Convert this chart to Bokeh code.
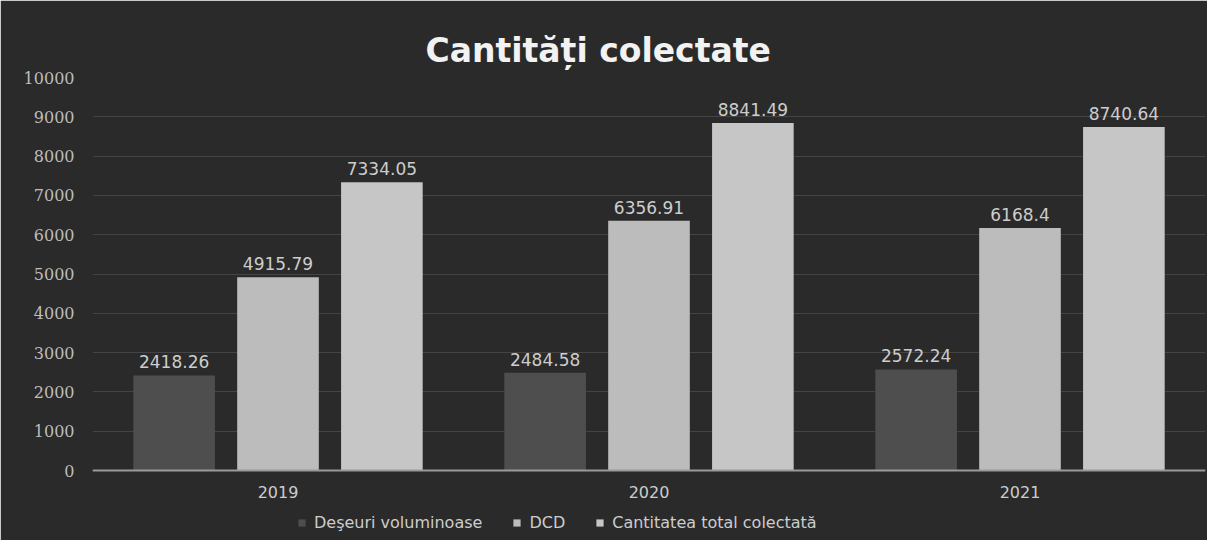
from bokeh.plotting import figure
from bokeh.models import ColumnDataSource, Range1d, FactorRange, LabelSet, Legend, LegendItem, Span
from bokeh.core.properties import value
from bokeh.transform import dodge
from bokeh.embed import file_html
from bokeh.resources import INLINE

years = ["2019", "2020", "2021"]
voluminoase = [2418.26, 2484.58, 2572.24]
dcd = [4915.79, 6356.91, 6168.4]
total = [7334.05, 8841.49, 8740.64]
series_names = ["Deşeuri voluminoase", "DCD", "Cantitatea total colectată"]
y_ticks = [0, 1000, 2000, 3000, 4000, 5000, 6000, 7000, 8000, 9000, 10000]

def fmt(v):
    s = ("%.2f" % v).rstrip("0").rstrip(".")
    return s

src = ColumnDataSource(dict(
    year=years,
    zero=[0, 0, 0],
    vol=voluminoase, dcd=dcd, tot=total,
    vol_l=[fmt(v) for v in voluminoase],
    dcd_l=[fmt(v) for v in dcd],
    tot_l=[fmt(v) for v in total],
))

BG = "#2a2a2a"
TXT = "#cdcdcd"

p = figure(width=1207, height=540, x_range=FactorRange(*years, range_padding=0),
           y_range=Range1d(-1781, 10000), output_backend="svg", toolbar_location=None,
           min_border_left=92, min_border_right=2, min_border_top=77, min_border_bottom=0)
p.background_fill_color = BG
p.border_fill_color = BG
p.outline_line_color = BG
p.outline_line_width = 3

p.title.text = "Cantități colectate"
p.title.text_font = "DejaVu Sans"
p.title.text_font_size = "33px"
p.title.text_font_style = "bold"
p.title.text_color = "#f2f2f2"
p.title.align = "left"
p.title.offset = 333
p.title.standoff = 16

w = 0.22
r1 = p.vbar(x=dodge("year", -0.28, range=p.x_range), top="vol", width=w, source=src,
            fill_color="#4e4e4e", line_color=None)
r2 = p.vbar(x=dodge("year", 0.0, range=p.x_range), top="dcd", width=w, source=src,
            fill_color="#bcbcbc", line_color=None)
r3 = p.vbar(x=dodge("year", 0.28, range=p.x_range), top="tot", width=w, source=src,
            fill_color="#c6c6c6", line_color=None)

for off, col, lab in [(-0.28, "vol", "vol_l"), (0.0, "dcd", "dcd_l"), (0.28, "tot", "tot_l")]:
    ls = LabelSet(x=dodge("year", off, range=p.x_range), y=col, text=lab, source=src,
                  y_offset=7, text_align="center", text_baseline="bottom",
                  text_color=TXT, text_font=value("DejaVu Sans"), text_font_size="17px")
    p.add_layout(ls)

# category labels under the baseline
p.add_layout(LabelSet(x="year", y="zero", text="year", source=src, y_offset=-15,
                      text_align="center", text_baseline="top", text_color=TXT,
                      text_font=value("DejaVu Sans"), text_font_size="16px"))

p.add_layout(Span(location=0, dimension="width", line_color="#9a9a9a", line_width=2))

p.xaxis.visible = False
p.yaxis.ticker = y_ticks
p.yaxis.axis_line_color = None
p.yaxis.major_tick_line_color = None
p.yaxis.minor_tick_line_color = None
p.yaxis.major_label_text_color = "#bdbdbd"
p.yaxis.major_label_text_font = "DejaVu Serif"
p.yaxis.major_label_text_font_size = "16px"
p.yaxis.major_label_standoff = 12

p.xgrid.grid_line_color = None
p.ygrid.ticker = y_ticks
p.ygrid.grid_line_color = "#444444"
p.ygrid.grid_line_width = 1

legend = Legend(items=[LegendItem(label=series_names[0], renderers=[r1]),
                       LegendItem(label=series_names[1], renderers=[r2]),
                       LegendItem(label=series_names[2], renderers=[r3])],
                orientation="horizontal", location=(203, 6),
                background_fill_alpha=0, border_line_alpha=0,
                label_text_color=TXT, label_text_font="DejaVu Sans", label_text_font_size="16px",
                glyph_width=9, glyph_height=9, spacing=30, padding=2, margin=0,
                label_standoff=8)
p.add_layout(legend, "center")

open("out.html", "w").write(file_html(p, INLINE))
